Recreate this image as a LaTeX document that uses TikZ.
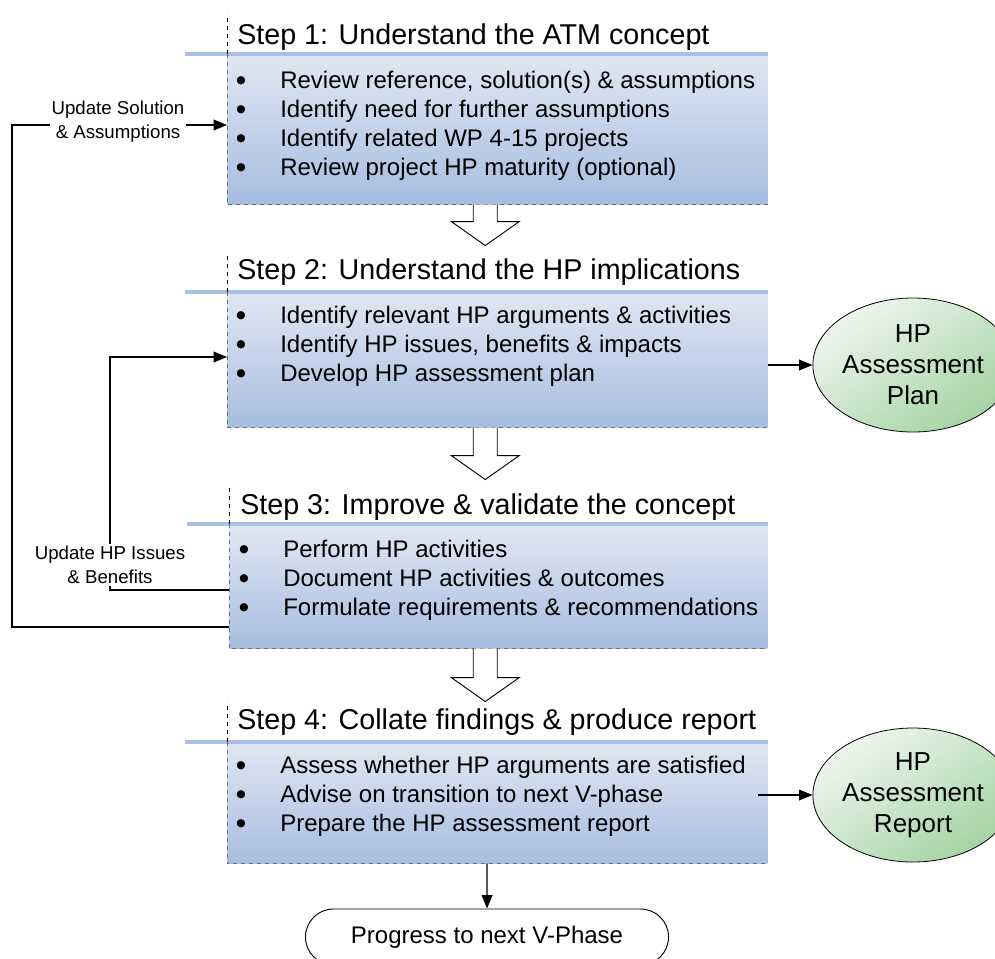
\documentclass[tikz,border=0pt]{standalone}
\usepackage{fontspec}
\setmainfont{Liberation Sans}
\newfontfamily\dotfont{DejaVu Sans}
\usetikzlibrary{positioning,arrows.meta,shapes.geometric,shapes.misc}

\definecolor{stepTop}{RGB}{224,231,243}
\definecolor{stepBottom}{RGB}{167,189,224}
\definecolor{stepBar}{RGB}{168,191,225}
\definecolor{stepEdge}{RGB}{110,110,110}
\definecolor{goalLight}{RGB}{238,246,238}
\definecolor{goalDark}{RGB}{164,211,164}

\newcommand{\bul}{\makebox[33pt][l]{\raisebox{3.6pt}{\dotfont\fontsize{8}{8}\selectfont ●}}}

\tikzset{
    stepbox/.style={anchor=north west, inner sep=0pt, minimum width=405pt, top color=stepTop, bottom color=stepBottom},
    stephead/.style={anchor=base west, inner sep=0pt, font=\fontsize{21.5}{25}\selectfont},
    steplist/.style={anchor=north west, inner sep=0pt, align=left, font=\fontsize{18}{21.75}\selectfont},
    stepbar/.style={draw=stepBar, line width=3pt},
    headedge/.style={draw=black, dashed, line width=0.6pt},
    boxedge/.style={draw=stepEdge, dashed, line width=0.6pt},
    hollowline/.style={draw=black, line width=0.7pt, fill=white},
    flowarrow/.style={draw=black, line width=1pt, -{Triangle[length=10pt,width=8pt]}},
    looplabel/.style={fill=white, inner sep=1.5pt, align=center, font=\fontsize{14}{18}\selectfont},
    goal/.style={ellipse, draw=black, line width=0.6pt, minimum width=142.5pt, minimum height=100.5pt, inner sep=0pt, align=center, top color=goalLight, bottom color=goalDark, shading angle=35, font=\fontsize{19.5}{23.25}\selectfont},
    terminal/.style={rounded rectangle, draw=black, line width=0.7pt, minimum width=279pt, minimum height=42pt, font=\fontsize{18}{21.6}\selectfont},
    pics/hollowdown/.style={code={\draw[hollowline] (-12,0) -- (-12,-#1) -- (-34,-#1) -- (0,-#1-24) -- (34,-#1) -- (12,-#1) -- (12,0);}}
}

\begin{document}
\begin{tikzpicture}[x=0.75pt,y=0.75pt,yscale=-1,xscale=1]
    \useasboundingbox (0,0) rectangle (995,958);

    % Step boxes
    \node[stepbox, minimum height=112.5pt] (box1) at (227,54) {};
    \node[stepbox, minimum height=101.25pt] (box2) at (227,292) {};
    \node[stepbox, minimum width=403.5pt, minimum height=93pt] (box3) at (229,524) {};
    \node[stepbox, minimum height=90.75pt] (box4) at (227,742) {};

    % bars and dashed edges
    \foreach \b in {box1,box2,box3,box4}{
        \draw[stepbar] (\b.north west) ++(-42,0) -- (\b.north east);
        \draw[headedge] (\b.north west) -- ++(0,-40);
        \draw[boxedge] (\b.north west) -- (\b.south west) -- (\b.south east);
    }

    % Step titles
    \node[stephead] (head1) at (237,44) {Step 1: Understand the ATM concept};
    \node[stephead] (head2) at (237,279) {Step 2: Understand the HP implications};
    \node[stephead] (head3) at (240,514) {Step 3: Improve \& validate the concept};
    \node[stephead] (head4) at (237,729) {Step 4: Collate findings \& produce report};

    % Bullet lists
    \node[steplist] (list1) at (236,71) {\bul Review reference, solution(s) \& assumptions\\ \bul Identify need for further assumptions\\ \bul Identify related WP 4-15 projects\\ \bul Review project HP maturity (optional)};
    \node[steplist] (list2) at (236,306) {\bul Identify relevant HP arguments \& activities\\ \bul Identify HP issues, benefits \& impacts\\ \bul Develop HP assessment plan};
    \node[steplist] (list3) at (239,540) {\bul Perform HP activities\\ \bul Document HP activities \& outcomes\\ \bul Formulate requirements \& recommendations};
    \node[steplist] (list4) at (236,756) {\bul Assess whether HP arguments are satisfied\\ \bul Advise on transition to next V-phase\\ \bul Prepare the HP assessment report};

    % hollow arrows between steps
    \path (box1.south) ++(-12,0) pic {hollowdown=17};
    \path (box2.south) ++(-12,0) pic {hollowdown=28};
    \path (box3.south) ++(-13,0) pic {hollowdown=29};

    % Outputs
    \node[goal] (plan) at (913,365) {HP\\Assessment\\Plan};
    \node[goal] (report) at (913,795) {HP\\Assessment\\Report};
    \node[terminal] (next) at (487,937) {Progress to next V-Phase};

    \draw[flowarrow] (box2.east |- plan) -- (plan);
    \draw[flowarrow] (box4.east |- report) ++(-10,0) -- (report);
    \draw[flowarrow] (next |- box4.south) -- (next);

    % Feedback loops
    \coordinate (loopA) at (12,627);
    \coordinate (loopB) at (12,125);
    \coordinate (loopC) at (110,590);
    \coordinate (loopD) at (110,357);
    \draw[flowarrow] (loopA -| box3.west) -- (loopA) -- (loopB) -- (loopB -| box1.west);
    \draw[flowarrow] (loopC -| box3.west) -- (loopC) -- (loopD) -- (loopD -| box2.west);

    \node[looplabel] (upd1) at (118,122) {Update Solution\\\& Assumptions};
    \node[looplabel] (upd2) at (110,565) {Update HP Issues\\\& Benefits};
\end{tikzpicture}
\end{document}
